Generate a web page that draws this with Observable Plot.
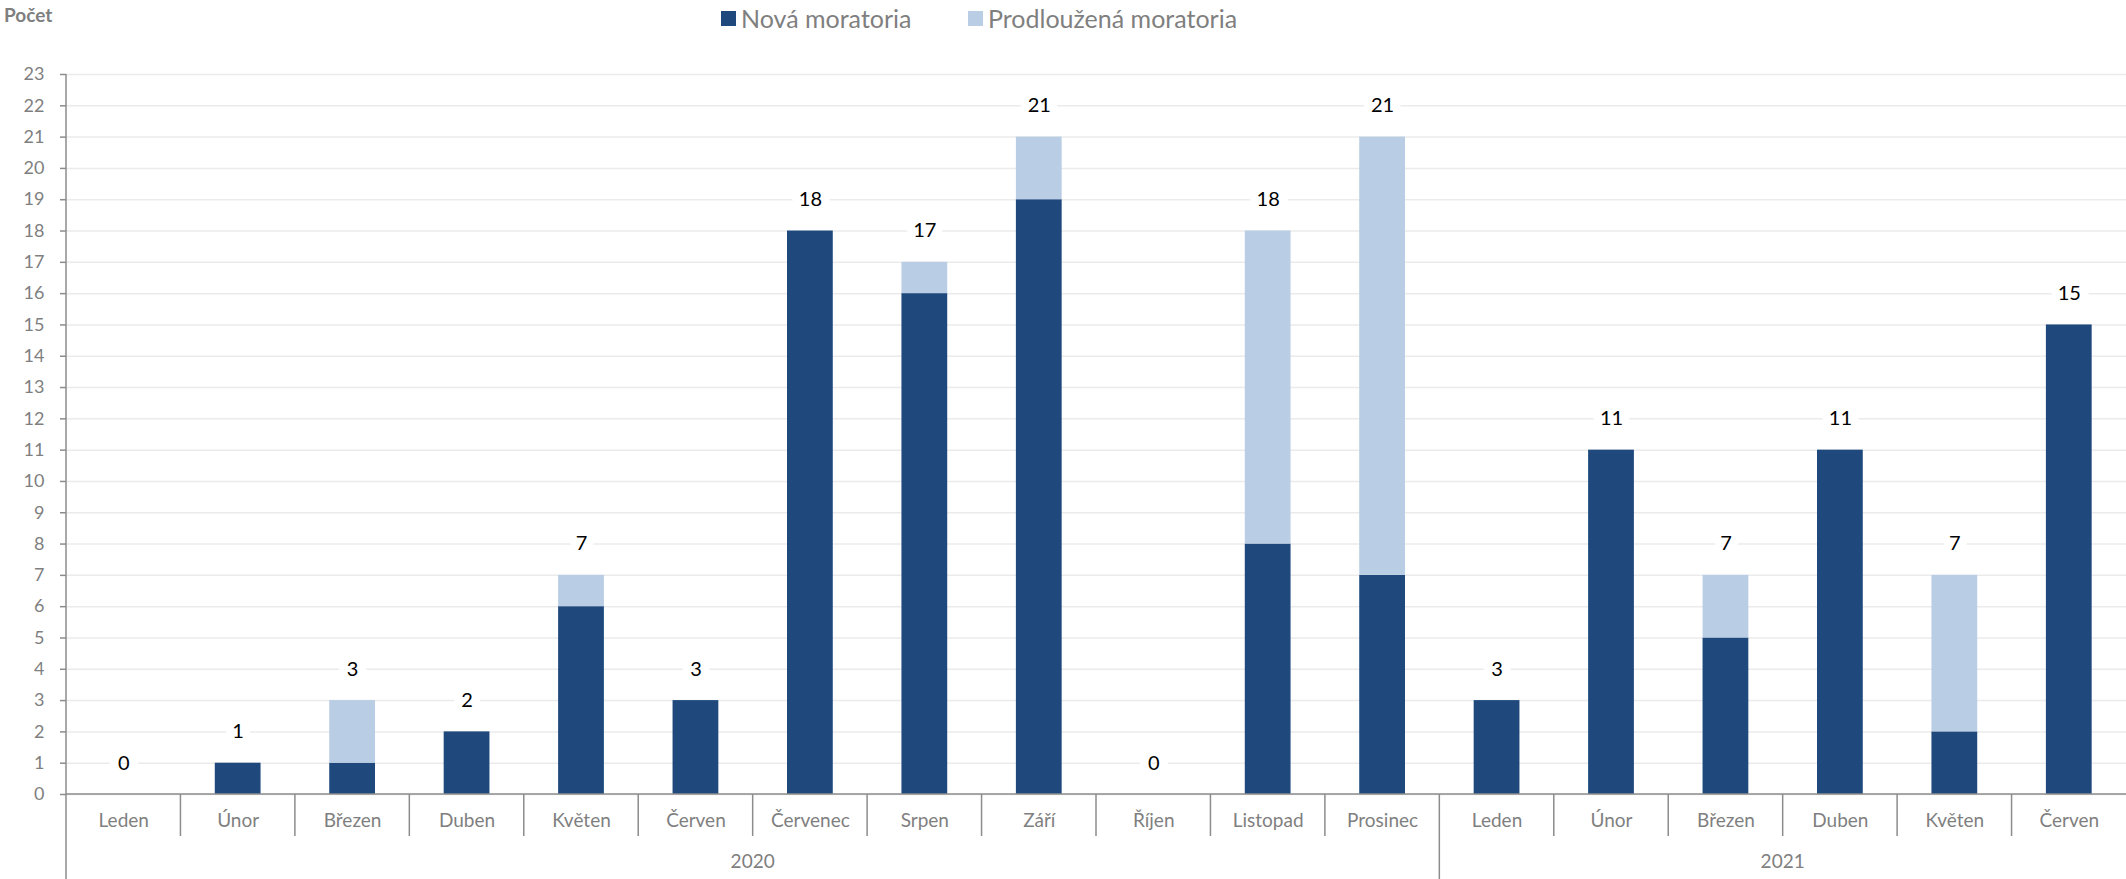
<!DOCTYPE html>
<html><head><meta charset="utf-8">
<script src="https://cdn.jsdelivr.net/npm/d3@7"></script>
<script src="https://cdn.jsdelivr.net/npm/@observablehq/plot@0.6"></script>
<style>
body{margin:0;background:#fff;font-family:Lato,"Open Sans",sans-serif}
#wrap{position:relative;width:2126px;height:879px;overflow:hidden}
#ylab{position:absolute;left:4px;top:3px;font-weight:bold;color:#7f7f7f;font-size:19px}
#legend .it{position:absolute;top:3px;display:flex;align-items:center;font-size:25px;color:#7f7f7f;white-space:nowrap}
#legend .sw{width:15px;height:15px;margin-right:5px}
#chart{position:absolute;left:0;top:0}
</style></head>
<body><div id="wrap"><div id="chart"></div><div id="ylab">Počet</div><div id="legend"></div></div>
<script>
const months = ["Leden","Únor","Březen","Duben","Květen","Červen","Červenec","Srpen","Září","Říjen","Listopad","Prosinec","Leden","Únor","Březen","Duben","Květen","Červen"];
const years = [2020,2020,2020,2020,2020,2020,2020,2020,2020,2020,2020,2020,2021,2021,2021,2021,2021,2021];
const nova = [0,1,1,2,6,3,18,16,19,0,8,7,3,11,5,11,2,15];
const prodlouzena = [0,0,2,0,1,0,0,1,2,0,10,14,0,0,2,0,5,0];
const seriesNames = ["Nová moratoria","Prodloužená moratoria"];
const seriesColors = ["#1f497d","#b9cde5"];
const yTicks = d3.range(0,24);

const keys = months.map((m,i)=> years[i] + "-" + i);
const rows = [];
keys.forEach((k,i)=>{
  rows.push({key:k, series:seriesNames[0], value:nova[i]});
  rows.push({key:k, series:seriesNames[1], value:prodlouzena[i]});
});
const totals = keys.map((k,i)=>({key:k, total:nova[i]+prodlouzena[i]}));

const W = 2126, H = 879;
const gridColor = "#ebebeb", axisColor = "#8c8c8c", textColor = "#7f7f7f";

function categoryAxis(index, scales, values, dimensions){
  const {width, height, marginLeft, marginRight} = dimensions;
  const step = (width - marginLeft - marginRight) / keys.length;
  let bw = scales.x.bandwidth;
  if (typeof bw === "function") bw = bw();
  if (!(bw > 0)) bw = step * 0.4;
  const y0 = scales.y(0);
  const g = d3.create("svg:g").attr("stroke", axisColor).attr("stroke-width", 1.5);
  const bound = i => i < keys.length ? scales.x(keys[i]) + bw/2 - step/2 : scales.x(keys[keys.length-1]) + bw/2 + step/2;
  g.append("line").attr("x1", marginLeft).attr("x2", width - marginRight).attr("y1", y0).attr("y2", y0);
  g.append("line").attr("x1", bound(0)).attr("x2", bound(0)).attr("y1", scales.y(23)).attr("y2", height);
  for (let i = 1; i < keys.length; i++) {
    const x = bound(i);
    const yearChange = years[i] !== years[i-1];
    g.append("line").attr("x1", x).attr("x2", x).attr("y1", y0).attr("y2", yearChange ? height : y0 + 42);
  }
  const yrs = Array.from(new Set(years));
  yrs.forEach(yr => {
    const first = years.indexOf(yr), last = years.lastIndexOf(yr);
    const cx = (bound(first) + bound(last+1)) / 2;
    g.append("text").attr("x", cx).attr("y", y0 + 69).attr("text-anchor","middle")
      .attr("dominant-baseline","middle").attr("stroke","none").attr("fill", textColor)
      .attr("font-size", 19).text(yr);
  });
  return g.node();
}

const plot = Plot.plot({
  width: W, height: H,
  marginTop: 74, marginBottom: 85, marginLeft: 66, marginRight: 0,
  style: {fontFamily: "Lato, 'Open Sans', sans-serif", fontSize: "18px", color: textColor, background: "#fff"},
  x: {domain: keys, paddingInner: 0.6, paddingOuter: 0.3, round: false, label: null},
  y: {domain: [0, 23], label: null},
  color: {domain: seriesNames, range: seriesColors},
  marks: [
    Plot.gridY(yTicks, {stroke: gridColor, strokeOpacity: 1, strokeWidth: 1.5}),
    Plot.barY(rows, {x: "key", y: "value", fill: "series", inset: 0}),
    Plot.axisY(yTicks, {label: null, tickSize: 6, tickPadding: 16, stroke: axisColor, strokeWidth: 1.5, fill: textColor, fontSize: 18}),
    Plot.axisX({label: null, tickSize: 0, tickPadding: 19, tickFormat: k => months[keys.indexOf(k)], fill: textColor, fontSize: 19}),
    categoryAxis,
    Plot.text(totals, {x: "key", y: d => d.total + 1, text: d => String(d.total), fill: "#000", fontSize: 20,
      stroke: "#fff", strokeWidth: 18, paintOrder: "stroke", lineAnchor: "middle"})
  ]
});
document.getElementById("chart").appendChild(plot);

const legend = document.getElementById("legend");
const legendX = [721, 968];
seriesNames.forEach((n,i)=>{
  const it = document.createElement("div"); it.className = "it"; it.style.left = legendX[i] + "px";
  const sw = document.createElement("div"); sw.className = "sw"; sw.style.background = seriesColors[i];
  const t = document.createElement("span"); t.textContent = n;
  it.appendChild(sw); it.appendChild(t); legend.appendChild(it);
});
</script></body></html>
